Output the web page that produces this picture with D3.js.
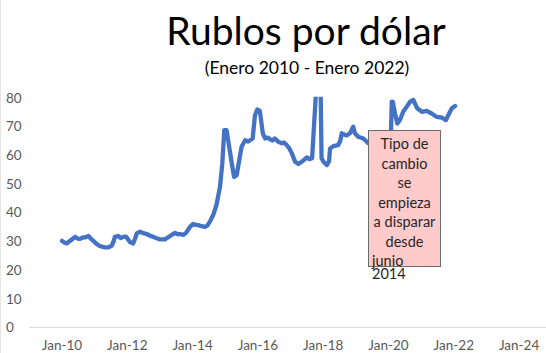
<!DOCTYPE html>
<html><head><meta charset="utf-8">
<script src="https://cdn.jsdelivr.net/npm/d3@7"></script>
<style>
html,body{margin:0;padding:0;background:#fff;}
svg{display:block;}
text{font-family:Lato,"Open Sans",sans-serif;}
</style></head>
<body>
<svg id="chart" width="546" height="353"></svg>
<script>
const titleText = "Rublos por dólar";
const subtitleText = "(Enero 2010 - Enero 2022)";
const yTicks = [0,10,20,30,40,50,60,70,80];
const xTickYears = [2010,2012,2014,2016,2018,2020,2022,2024];
const xTickLabels = ["Jan-10","Jan-12","Jan-14","Jan-16","Jan-18","Jan-20","Jan-22","Jan-24"];
const noteLines = ["Tipo de","cambio","se","empieza","a disparar","desde"];
const noteTail = ["junio","2014"];

// decimal-year dates and rubles per dollar
const dates = [
 2010.00,2010.07,2010.14,2010.22,2010.30,2010.40,2010.48,2010.55,2010.62,2010.70,2010.81,2010.91,
 2011.00,2011.06,2011.14,2011.22,2011.32,2011.42,2011.52,2011.58,2011.62,2011.72,2011.80,2011.88,2011.96,
 2012.08,2012.18,2012.24,2012.29,2012.39,2012.49,2012.59,2012.70,2012.80,2012.90,
 2013.00,2013.15,2013.31,2013.46,2013.55,2013.61,2013.72,2013.80,2013.92,
 2014.02,2014.10,2014.17,2014.28,2014.38,2014.45,2014.53,2014.63,2014.73,2014.84,2014.91,2014.97,
 2015.04,2015.12,2015.20,2015.27,2015.35,2015.43,2015.50,2015.61,2015.70,2015.76,2015.84,2015.91,2015.98,
 2016.06,2016.15,2016.22,2016.30,2016.37,2016.45,2016.52,2016.63,2016.73,2016.80,2016.88,2016.96,
 2017.04,2017.14,2017.24,2017.34,2017.42,2017.50,2017.58,2017.66,2017.79,2017.92,2017.95,
 2018.01,2018.11,2018.18,2018.21,2018.31,2018.46,2018.52,2018.57,2018.65,2018.72,2018.82,2018.92,
 2018.97,2019.07,2019.23,2019.38,2019.60,2019.85,2020.00,2020.07,2020.10,
 2020.13,2020.20,2020.27,2020.35,2020.45,2020.56,2020.66,2020.76,2020.88,
 2021.02,2021.17,2021.32,2021.48,2021.63,2021.76,2021.83,2021.94,2022.04
];
const rubPerUsd = [
 30.2,29.6,29.3,30.0,30.7,31.6,31.0,30.9,31.3,31.4,31.9,30.7,
 29.8,29.1,28.5,28.2,27.9,27.9,28.5,30.0,31.6,31.9,31.2,31.6,31.7,
 29.8,29.3,31.0,32.8,33.4,32.9,32.6,32.0,31.6,31.1,
 30.7,30.7,31.9,33.0,32.5,32.6,32.3,33.0,35.1,
 36.1,35.8,35.7,35.3,35.1,35.5,36.9,39.2,42.7,49.1,57.2,68.8,
 68.8,63.0,57.2,52.5,53.1,58.4,63.0,65.3,64.8,65.3,65.9,74.0,76.0,
 75.5,67.7,65.9,66.2,65.6,65.2,65.9,64.7,64.2,64.5,63.6,62.5,
 60.7,57.8,57.0,57.8,58.5,59.3,58.7,59.0,84.0,84.0,59.0,
 57.8,56.6,58.0,62.4,63.2,63.6,65.0,67.7,67.2,67.0,67.7,70.0,
 67.7,66.5,65.9,64.2,64.5,63.5,62.0,65.0,78.7,
 78.7,74.6,71.1,72.3,75.2,77.0,78.7,79.3,76.4,
 75.2,75.5,74.6,73.4,73.2,72.3,74.0,76.4,77.2
];

const svg = d3.select("#chart");
const x = d3.scaleLinear().domain([2009,2025]).range([29.35,551.75]);
const y = d3.scaleLinear().domain([0,80]).range([327.5,98]);

// faint outer border on left
svg.append("line").attr("x1",0.5).attr("x2",0.5).attr("y1",0).attr("y2",353)
  .attr("stroke","#e6e6e6");

// plot-area clip (values above the axis maximum are cut off)
svg.append("clipPath").attr("id","plotclip").append("rect")
  .attr("x",0).attr("y",y(80.4)).attr("width",546).attr("height",353);

// title
svg.append("text").attr("x",306).attr("y",45).attr("text-anchor","middle")
  .attr("font-size",39).attr("fill","#000").text(titleText);
svg.append("text").attr("x",307).attr("y",74).attr("text-anchor","middle")
  .attr("font-size",17.5).attr("fill","#000").text(subtitleText);

// x axis baseline
svg.append("line").attr("x1",29).attr("x2",546).attr("y1",y(0)).attr("y2",y(0))
  .attr("stroke","#d9d9d9").attr("stroke-width",1);

// y tick labels
svg.append("g").selectAll("text").data(yTicks).join("text")
  .attr("x",6).attr("y",d=>y(d)).attr("dy","0.35em")
  .attr("font-size",13.5).attr("fill","#595959").text(d=>d);

// x tick labels
svg.append("g").selectAll("text").data(xTickYears).join("text")
  .attr("x",d=>x(d)).attr("y",345).attr("dy","0.35em").attr("text-anchor","middle")
  .attr("font-size",13.5).attr("fill","#595959").text((d,i)=>xTickLabels[i]);

// line
const pts = dates.map((d,i)=>[d,rubPerUsd[i]]);
svg.append("path").datum(pts)
  .attr("clip-path","url(#plotclip)")
  .attr("fill","none").attr("stroke","#4472C4").attr("stroke-width",4.3)
  .attr("stroke-linejoin","round").attr("stroke-linecap","round")
  .attr("d", d3.line().x(d=>x(d[0])).y(d=>y(d[1])));

// annotation box
const bx = 368, by = 130, bw = 72, bh = 136;
svg.append("rect").attr("x",bx+0.5).attr("y",by+0.5).attr("width",bw).attr("height",bh)
  .attr("fill","#ffcaca").attr("stroke","#6b6b6b").attr("stroke-width",1);
svg.append("g").selectAll("text").data(noteLines).join("text")
  .attr("x",bx+bw/2+0.5).attr("y",(d,i)=>149+i*19.6).attr("text-anchor","middle")
  .attr("font-size",14.5).attr("fill","#262626").text(d=>d);
svg.append("text").attr("x",372).attr("y",266).attr("font-size",14.5)
  .attr("fill","#262626").text(noteTail[0]);
svg.append("text").attr("x",372).attr("y",279).attr("font-size",14.5)
  .attr("fill","#262626").text(noteTail[1]);
</script>
</body></html>
